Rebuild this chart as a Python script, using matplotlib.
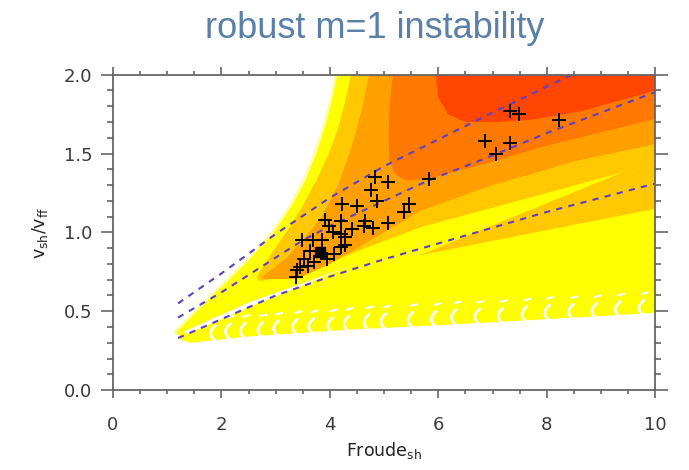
import numpy as np
import matplotlib
matplotlib.use("Agg")
import matplotlib.pyplot as plt
from matplotlib.ticker import MultipleLocator

# --- growth-rate contour bands, boundaries (Froude_sh, v_sh/v_ff)
yellow_x = [1.18, 1.55, 2.0, 2.5, 2.97, 3.3, 3.55, 3.75, 3.92, 4.04, 4.14,
            10.0, 10.0, 7.0, 4.2, 2.5, 1.43, 1.25]
yellow_y = [0.37, 0.50, 0.65, 0.82, 1.00, 1.17, 1.33, 1.50, 1.68, 1.84, 2.00,
            2.00, 0.49, 0.43, 0.38, 0.34, 0.30, 0.32]

gold_x = [4.39, 4.28, 4.15, 3.98, 3.75, 3.5, 3.25, 2.95, 2.65, 2.70, 3.5, 4.5,
          5.69, 9.39, 10.0, 10.0]
gold_y = [2.00, 1.83, 1.66, 1.50, 1.33, 1.17, 1.03, 0.88, 0.72, 0.69, 0.74, 0.88,
          1.035, 1.38, 1.42, 2.00]

gold_wedge_x = [5.65, 9.39, 10.0, 10.0]
gold_wedge_y = [0.855, 1.38, 1.42, 1.15]

orange_x = [4.72, 4.62, 4.5, 4.36, 4.15, 3.85, 3.5, 3.2, 2.95, 2.75, 2.80, 3.4,
            4.0, 4.6, 5.69, 7.0, 8.5, 10.0, 10.0]
orange_y = [2.00, 1.83, 1.66, 1.50, 1.30, 1.10, 0.95, 0.84, 0.77, 0.72, 0.705, 0.705,
            0.80, 0.92, 1.14, 1.30, 1.45, 1.56, 2.00]

dorange_x = [5.16, 5.1, 5.08, 5.1, 5.2, 5.4, 5.8, 6.8, 8.0, 10.0, 10.0]
dorange_y = [2.00, 1.80, 1.60, 1.45, 1.37, 1.33, 1.34, 1.43, 1.55, 1.72, 2.00]

red_x = [5.96, 5.99, 6.18, 6.49, 7.1, 7.72, 8.65, 10.0, 10.0]
red_y = [2.00, 1.86, 1.75, 1.70, 1.70, 1.715, 1.77, 1.90, 2.00]

# thin white gap between the upper wedge and the fringe band
gap_x = [1.30, 2.5, 4.40, 2.5, 1.36]
gap_y = [0.37, 0.555, 0.79, 0.525, 0.355]

# white fringe crescents near the lower edge
fringe_x = [1.8, 2.07, 2.35, 2.67, 2.96, 3.31, 3.61, 3.96, 4.26, 4.63, 4.94,
            5.44, 5.87, 6.24, 6.67, 7.1, 7.54, 7.96, 8.4, 8.83, 9.26, 9.7]
fringe_y = [0.36, 0.37, 0.375, 0.38, 0.39, 0.40, 0.405, 0.41, 0.42, 0.43, 0.435,
            0.445, 0.45, 0.46, 0.465, 0.47, 0.48, 0.49, 0.495, 0.50, 0.51, 0.52]

# dashed reference curves
top_x = [1.2, 2.0, 3.0, 4.0, 5.0, 6.0, 7.0, 8.46]
top_y = [0.55, 0.74, 0.99, 1.22, 1.42, 1.59, 1.76, 2.00]
mid_x = [1.2, 2.0, 3.0, 3.5, 4.0, 5.0, 5.82, 6.8, 8.0, 10.0]
mid_y = [0.46, 0.62, 0.84, 0.95, 1.04, 1.20, 1.33, 1.46, 1.63, 1.89]
low_x = [1.2, 2.0, 3.0, 4.0, 5.0, 6.0, 7.0, 8.0, 9.0, 10.0]
low_y = [0.33, 0.45, 0.60, 0.72, 0.83, 0.93, 1.03, 1.13, 1.22, 1.31]

# simulations (crosses) and the fiducial model (square)
sim_fr = [3.37, 3.40, 3.44, 3.52, 3.59, 3.71, 3.49, 3.68, 3.85, 3.63, 3.94, 4.08,
          3.91, 3.99, 4.05, 4.20, 4.23, 4.50, 4.40, 4.20, 4.27, 4.20, 4.28, 4.62,
          4.65, 4.80, 5.08, 4.75, 4.84, 5.08, 4.87, 5.45, 5.36, 5.82, 6.86, 7.32,
          7.06, 7.32, 7.49, 8.22]
sim_v = [0.72, 0.76, 0.78, 0.83, 0.79, 0.81, 0.95, 0.95, 0.95, 0.88, 0.83, 0.86,
         1.08, 1.04, 1.00, 1.07, 1.18, 1.17, 1.02, 0.99, 0.97, 0.91, 0.92, 1.04,
         1.07, 1.03, 1.06, 1.27, 1.35, 1.32, 1.20, 1.18, 1.13, 1.34, 1.58, 1.57,
         1.50, 1.77, 1.75, 1.71]
ref_fr = [3.82]
ref_v = [0.877]

fig = plt.figure(figsize=(6.89, 4.70), dpi=100)
ax = fig.add_axes([0.164, 0.170, 0.787, 0.671])

# pale rim along the yellow edge, then the yellow band itself
ax.plot(yellow_x[:11], yellow_y[:11], color="#ffff9a", lw=4, zorder=0.5)
ax.fill(yellow_x, yellow_y, color="#ffff00", lw=0)
ax.fill(gap_x, gap_y, color="white", lw=0)

# fringe texture: crescent, short dash above it, notch under it
t = np.linspace(-1.0, 1.0, 9)
for fx, fy in zip(fringe_x, fringe_y):
    ax.plot(fx + 0.09 * t**2, fy + 0.05 * t, color="white", lw=2.0,
            solid_capstyle="round")
    ax.plot([fx + 0.05, fx + 0.16], [fy + 0.09, fy + 0.10], color="white",
            lw=1.6, solid_capstyle="round")
    ax.plot([fx + 0.14, fx + 0.22], [fy - 0.055, fy - 0.075], color="white",
            lw=2.2, solid_capstyle="round")

ax.fill(gold_x, gold_y, color="#ffc800", lw=0)
ax.fill(gold_wedge_x, gold_wedge_y, color="#ffc800", lw=0)
ax.fill(orange_x, orange_y, color="#ffa000", lw=0)
ax.fill(dorange_x, dorange_y, color="#ff7800", lw=0)
ax.fill(red_x, red_y, color="#ff4600", lw=0)

for cx, cy in [(top_x, top_y), (mid_x, mid_y), (low_x, low_y)]:
    ax.plot(cx, cy, color="#5e3fc4", lw=1.5, ls=(0, (3, 3)))

ax.plot(sim_fr, sim_v, ls="none", marker="+", color="black", ms=9.5, mew=1.4)
ax.plot(ref_fr, ref_v, ls="none", marker="s", color="black", ms=7)

ax.set_xlim(0, 10)
ax.set_ylim(0, 2.0)
ax.xaxis.set_major_locator(MultipleLocator(2))
ax.xaxis.set_minor_locator(MultipleLocator(0.5))
ax.yaxis.set_major_locator(MultipleLocator(0.5))
ax.yaxis.set_minor_locator(MultipleLocator(0.1))
ax.set_yticks([0.0, 0.5, 1.0, 1.5, 2.0], ["0.0", "0.5", "1.0", "1.5", "2.0"])

for s in ax.spines.values():
    s.set_color("#666666")
    s.set_linewidth(1.3)
ax.tick_params(which="both", direction="out", color="#666666", width=1.2,
               top=True, right=True, labelcolor="#3a3a3a", labelsize=13)
ax.tick_params(axis="x", which="major", length=6, pad=13)
ax.tick_params(axis="x", which="minor", length=3)
ax.tick_params(axis="y", which="major", length=9, pad=6)
ax.tick_params(axis="y", which="minor", length=4)

ax.set_xlabel(r"Froude$_{\rm sh}$", fontsize=12.5, color="#222222", labelpad=4)
ax.set_ylabel(r"v$_{\rm sh}$/v$_{\rm ff}$", fontsize=12.5, color="#222222", labelpad=10)

fig.text(0.544, 0.94, "robust m=1 instability", ha="center", va="center",
         fontsize=26, color="#5a7fa8", family="Liberation Sans")

fig.savefig("out.png", dpi=100)
